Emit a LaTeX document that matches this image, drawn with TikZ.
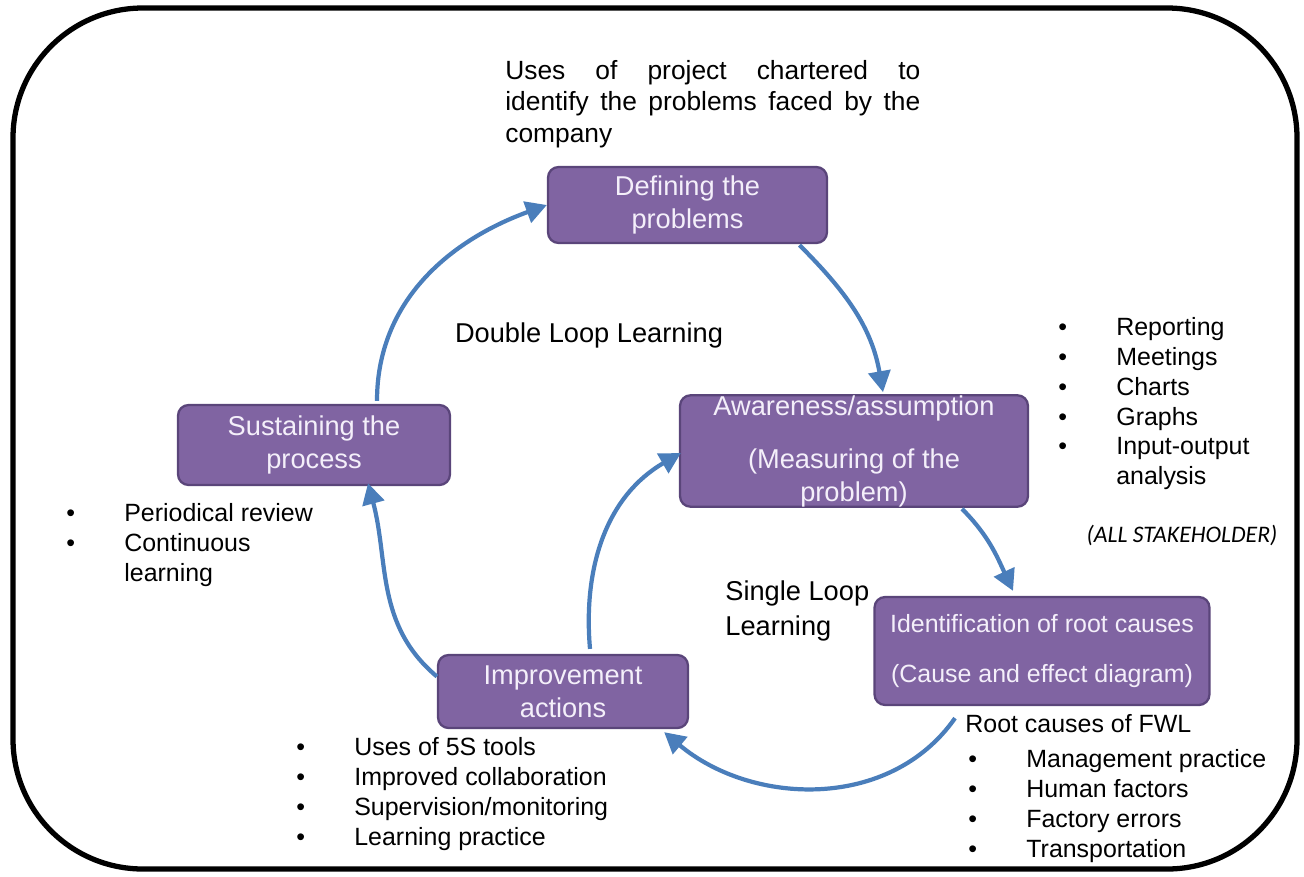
\documentclass[tikz,border=0pt]{standalone}
\usepackage{fontspec}
\setmainfont{Liberation Sans}
\newfontfamily\stakefont{Carlito}
\usetikzlibrary{arrows.meta, calc}
\definecolor{stagefill}{HTML}{8064A2}
\definecolor{stageedge}{HTML}{5A457A}
\definecolor{stagetext}{HTML}{F4EFFA}
\definecolor{flowblue}{HTML}{4A7EBB}
\newcommand{\bul}[1]{\makebox[1.16cm][l]{\textbullet}#1}
\newcommand{\bulgap}[1]{\hspace*{1.16cm}#1}

\begin{document}
\begin{tikzpicture}[
  x=0.02cm, y=0.02cm,
  font=\fontsize{14.2}{17}\selectfont,
  stage/.style={draw=stageedge, fill=stagefill, text=stagetext, line width=1.3pt,
    rounded corners=6pt, align=center, inner sep=0pt, font=\fontsize{15.5}{18.8}\selectfont},
  flow/.style={draw=flowblue, line width=2.4pt, -{Triangle[length=0.42cm, width=0.44cm]}},
  list/.style={anchor=north west, align=left, inner sep=0pt}
]
\useasboundingbox (0,0) rectangle (1304,-876);
\draw[line width=3pt, rounded corners=2.6cm] (13,-8) rectangle (1297,-869);

% stages of the cycle
\node[stage, minimum width=5.58cm, minimum height=1.52cm] (def) at (687.5,-205) {Defining the\\problems};
\node[stage, minimum width=6.96cm, minimum height=2.16cm] (aw) at (854,-451) {Awareness/assumption\\[0.4cm](Measuring of the\\problem)};
\node[stage, minimum width=6.7cm, minimum height=2.16cm, font=\fontsize{14.2}{17}\selectfont] (id) at (1042,-651) {Identification of root causes\\[0.4cm](Cause and effect diagram)};
\node[stage, minimum width=5cm, minimum height=1.46cm] (imp) at (563,-691.5) {Improvement\\actions};
\node[stage, minimum width=5.44cm, minimum height=1.6cm] (sus) at (314,-445) {Sustaining the\\process};

% loop labels and notes
\node[list, font=\fontsize{15}{17.9}\selectfont] (charter) at (505,-60) {\makebox[8.3cm][s]{Uses of project chartered to}\\\makebox[8.3cm][s]{identify the problems faced by the}\\company};
\node[font=\fontsize{15.5}{18.8}\selectfont] (double) at (589,-335) {Double Loop Learning};
\node[list, font=\fontsize{15.5}{19.9}\selectfont] (single) at (725,-580) {Single Loop\\Learning};
\node[list] (measures) at (1058,-317) {\bul{Reporting}\\\bul{Meetings}\\\bul{Charts}\\\bul{Graphs}\\\bul{Input-output}\\\bulgap{analysis}};
\node[font=\stakefont\itshape\fontsize{13.5}{16}\selectfont] (stake) at (1182,-535) {(ALL STAKEHOLDER)};
\node[list] (review) at (66,-503) {\bul{Periodical review}\\\bul{Continuous}\\\bulgap{learning}};
\node[list] (actions) at (296,-737) {\bul{Uses of 5S tools}\\\bul{Improved collaboration}\\\bul{Supervision/monitoring}\\\bul{Learning practice}};
\node[list] (rootlead) at (965,-714) {Root causes of FWL};
\node[list] (causes) at (968,-749) {\bul{Management practice}\\\bul{Human factors}\\\bul{Factory errors}\\\bul{Transportation}};

% connectors
\draw[flow] ($(def.south)+(112,-1)$) to[out=-45, in=100] ($(aw.north)+(29,2)$);
\draw[flow] ($(aw.south)+(108,-1)$) to[out=-45, in=115] ($(id.north)+(-29,5)$);
\draw[flow] ($(id.south)+(-87,-12)$) to[out=-125, in=-40] ($(imp.south east)+(-25,-3)$);
\draw[flow] ($(imp.north)+(27,5)$) to[out=95, in=210] ($(aw.west)+(2,-2)$);
\draw[flow] ($(imp.west)+(0,15)$) to[out=140, in=-75] ($(sus.south)+(54,3)$);
\draw[flow] ($(sus.north)+(63,3)$) to[out=90, in=200] (def.west);
\end{tikzpicture}
\end{document}
